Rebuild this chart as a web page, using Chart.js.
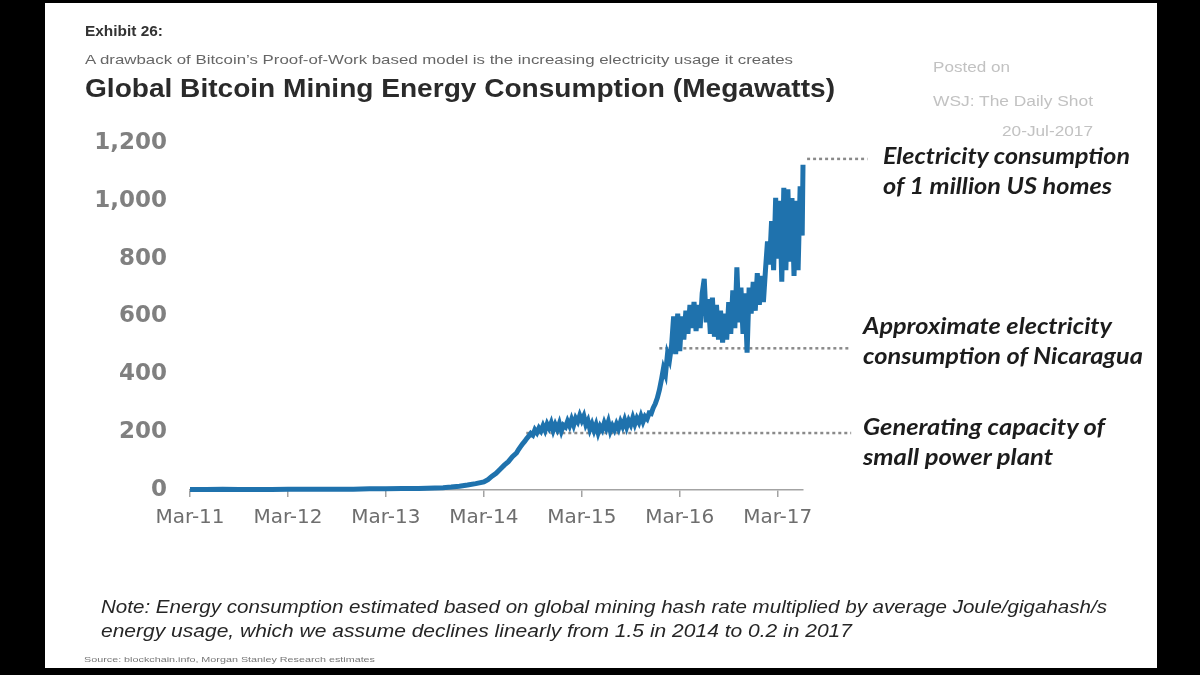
<!DOCTYPE html>
<html>
<head>
<meta charset="utf-8">
<script src="https://cdn.jsdelivr.net/npm/chart.js@4.4.0/dist/chart.umd.min.js"></script>
<style>
html, body { margin:0; padding:0; background:#000; }
#page { position:relative; width:1200px; height:675px; overflow:hidden; background:#000; }
#panel { position:absolute; left:45px; top:3px; width:1112px; height:665px; background:#fff; }
#chart { position:absolute; left:0; top:0; }
.t { position:absolute; white-space:nowrap; line-height:1; transform-origin:0 50%; font-family:"Liberation Sans", Arial, sans-serif; }
.exh { font-size:14px; font-weight:bold; color:#333; }
.sub { font-size:13px; color:#666; }
.ttl { font-size:25px; font-weight:bold; color:#2a2a2a; }
.wm { font-size:14px; color:#c2c2c2; }
.ann { font-family:Lato, "Open Sans", sans-serif; font-size:22px; font-weight:bold; font-style:italic; color:#1c1c1c; }
.note { font-size:19px; font-style:italic; color:#262626; }
.src { font-size:8px; color:#777; }
</style>
</head>
<body>
<div id="page">
  <div id="panel"></div>
  <canvas id="chart" width="1200" height="675"></canvas>

  <div class="t exh" style="left:85px;top:24px" data-w="78">Exhibit 26:</div>
  <div class="t sub" style="left:85px;top:53px" data-w="708">A drawback of Bitcoin’s Proof-of-Work based model is the increasing electricity usage it creates</div>
  <div class="t ttl" style="left:85px;top:76px" data-w="750">Global Bitcoin Mining Energy Consumption (Megawatts)</div>

  <div class="t wm" style="left:933px;top:60px" data-w="77">Posted on</div>
  <div class="t wm" style="left:933px;top:94px" data-w="160">WSJ: The Daily Shot</div>
  <div class="t wm" style="left:1002px;top:124px" data-w="91">20-Jul-2017</div>

  <div class="t ann" style="left:883px;top:145px" data-w="247">Electricity consumption</div>
  <div class="t ann" style="left:883px;top:175px" data-w="229">of 1 million US homes</div>
  <div class="t ann" style="left:863px;top:315px" data-w="249">Approximate electricity</div>
  <div class="t ann" style="left:863px;top:345px" data-w="280">consumption of Nicaragua</div>
  <div class="t ann" style="left:863px;top:416px" data-w="242">Generating capacity of</div>
  <div class="t ann" style="left:863px;top:446px" data-w="190">small power plant</div>

  <div class="t note" style="left:101px;top:597px" data-w="1006">Note: Energy consumption estimated based on global mining hash rate multiplied by average Joule/gigahash/s</div>
  <div class="t note" style="left:101px;top:621px" data-w="751">energy usage, which we assume declines linearly from 1.5 in 2014 to 0.2 in 2017</div>
  <div class="t src" style="left:84px;top:656px" data-w="291">Source: blockchain.info, Morgan Stanley Research estimates</div>
</div>

<script>
// x axis: months since Mar-2011
const tickMonths = [0, 12, 24, 36, 48, 60, 72];
const tickLabels = ['Mar-11', 'Mar-12', 'Mar-13', 'Mar-14', 'Mar-15', 'Mar-16', 'Mar-17'];

const months = [
  0, 2, 4, 6, 8, 10, 12, 14, 16, 18, 20, 22, 24, 26, 28, 29, 30, 31, 32, 33, 34, 35,
  36, 36.5, 37, 37.5, 38, 38.5, 39, 39.5,
  40, 40.25, 40.5, 40.75, 41, 41.25, 41.5, 41.75, 42, 42.25, 42.5, 42.75, 43, 43.25, 43.5, 43.75,
  44, 44.25, 44.5, 44.75, 45, 45.25, 45.5, 45.75, 46, 46.25, 46.5, 46.75, 47, 47.25, 47.5, 47.75,
  48, 48.25, 48.5, 48.75, 49, 49.25, 49.5, 49.75, 50, 50.25, 50.5, 50.75, 51, 51.25, 51.5, 51.75,
  52, 52.25, 52.5, 52.75, 53, 53.25, 53.5, 53.75, 54, 54.25, 54.5, 54.75, 55, 55.25, 55.5, 55.75,
  56, 56.25, 56.5, 56.75, 57, 57.25, 57.5, 57.75, 58, 58.25, 58.5, 58.75, 59, 59.25, 59.5, 59.75,
  60, 60.25, 60.5, 60.75, 61, 61.25, 61.5, 61.75, 62, 62.25, 62.5, 62.75, 63, 63.25, 63.5, 63.75,
  64, 64.25, 64.5, 64.75, 65, 65.25, 65.5, 65.75, 66, 66.25, 66.5, 66.75, 67, 67.25, 67.5, 67.75,
  68, 68.25, 68.5, 68.75, 69, 69.25, 69.5, 69.75, 70, 70.25, 70.5, 70.75, 71, 71.25, 71.5, 71.75,
  72, 72.25, 72.5, 72.75, 73, 73.25, 73.5, 73.75, 74, 74.25, 74.5, 74.75, 75, 75.1
];
const megawatts = [
  2, 2, 3, 2, 2, 2, 3, 3, 3, 3, 3, 4, 4, 5, 5, 6, 7, 8, 10, 13, 17, 22,
  28, 36, 48, 58, 72, 86, 98, 115,
  128, 140, 150, 160, 168, 178, 186, 196, 190, 208, 198, 214, 204, 222, 206, 228,
  214, 232, 206, 226, 210, 230, 204, 224, 218, 238, 222, 244, 224, 248, 236, 258,
  240, 256, 226, 240, 210, 228, 206, 226, 198, 220, 208, 232, 214, 236, 204, 222,
  208, 228, 212, 236, 220, 242, 218, 240, 226, 250, 228, 248, 234, 256, 236, 254,
  246, 266, 264, 284, 298, 318, 345, 380, 420, 400, 470, 450, 500, 600, 470, 610,
  480, 600, 520, 620, 540, 640, 560, 650, 550, 640, 560, 680, 730, 580, 660, 540,
  665, 530, 640, 520, 620, 510, 610, 520, 650, 540, 690, 560, 770, 580, 700, 540,
  680, 475, 700, 610, 720, 620, 750, 640, 740, 650, 760, 860, 780, 930, 760, 1010,
  800, 1000, 720, 1045, 760, 1040, 790, 1010, 740, 1000, 760, 1050, 880, 1125
];

// dotted reference lines
const refValues = [1145, 490, 197];
const refStart = [75.6, 57.5, 41.2];
const refEnd = [83.0, 81.0, 81.0];

const refSets = refValues.map((v, i) => ({
  data: [{x: refStart[i], y: v}, {x: refEnd[i], y: v}],
  borderColor: '#8a8a8a',
  borderWidth: 2.5,
  borderDash: [3, 3],
  pointRadius: 0,
  clip: false
}));

new Chart(document.getElementById('chart'), {
  type: 'line',
  data: {
    datasets: [
      {
        data: months.map((m, i) => ({x: m, y: megawatts[i]})),
        borderColor: '#1f72ad',
        borderWidth: 5,
        pointRadius: 0,
        tension: 0,
        clip: false
      },
      ...refSets
    ]
  },
  options: {
    responsive: false,
    animation: false,
    devicePixelRatio: 1,
    layout: { padding: { left: 0, right: 397, top: 143, bottom: 125 } },
    plugins: { legend: { display: false }, tooltip: { enabled: false } },
    scales: {
      x: {
        type: 'linear', min: 0, max: 75.1,
        afterBuildTicks: s => { s.ticks = tickMonths.map(v => ({value: v})); },
        afterFit: s => { s.height = 60; },
        ticks: {
          callback: v => tickLabels[tickMonths.indexOf(v)],
          font: { family: 'DejaVu Sans', size: 20 },
          color: '#6e6e6e', padding: 9, maxRotation: 0, autoSkip: false
        },
        grid: { drawOnChartArea: false, drawTicks: true, tickLength: 7, color: '#a3a3a3', lineWidth: 1.5 },
        border: { color: '#a3a3a3', width: 1.5 }
      },
      y: {
        min: 0, max: 1200,
        afterFit: s => { s.width = 190; },
        ticks: {
          stepSize: 200,
          callback: v => v.toLocaleString('en-US'),
          font: { family: 'DejaVu Sans', size: 23, weight: 'bold' },
          color: '#808080', padding: 23
        },
        grid: { display: false, drawTicks: false },
        border: { display: false }
      }
    }
  }
});

// stretch text horizontally like the source slide
document.querySelectorAll('[data-w]').forEach(el => {
  const w = el.getBoundingClientRect().width;
  el.style.transform = 'scaleX(' + (el.dataset.w / w) + ')';
});
</script>
</body>
</html>
